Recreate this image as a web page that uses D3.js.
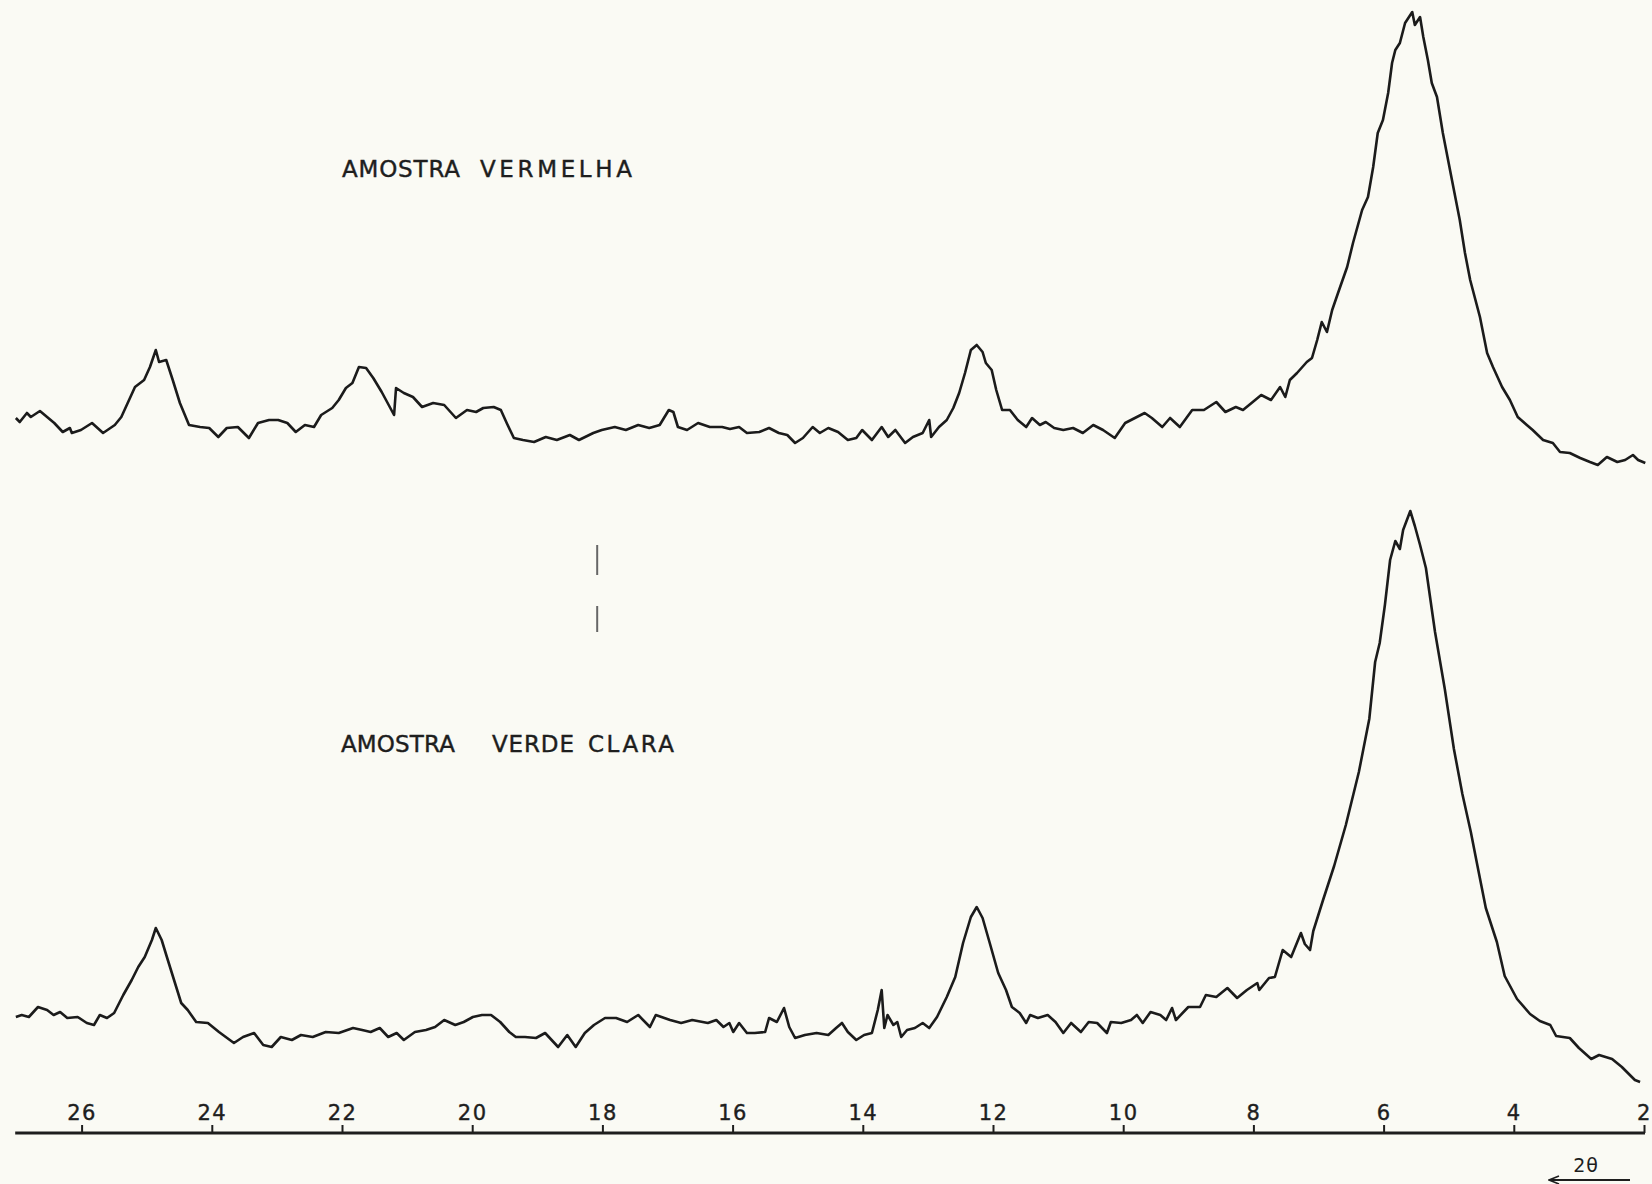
<!DOCTYPE html>
<html>
<head>
<meta charset="utf-8">
<script src="https://cdn.jsdelivr.net/npm/d3@7/dist/d3.min.js"></script>
<style>
  body { margin: 0; background: #fafaf4; }
  text { font-family: "DejaVu Sans", sans-serif; fill: #1e1e1e; }
</style>
</head>
<body>
<script>
const width = 1652;
const height = 1184;

// 2-theta tick marks of the recorder chart
const twoThetaTicks = [26, 24, 22, 20, 18, 16, 14, 12, 10, 8, 6, 4, 2];
const sampleNames = ["AMOSTRA VERMELHA", "AMOSTRA VERDE CLARA"];

// [2theta (deg), intensity (arb. units)], red sample
const redSample = [
  [27.01,124],[26.95,116],[26.84,134],[26.78,126],[26.64,138],[26.53,126],[26.42,114],[26.29,96],
  [26.18,104],[26.15,94],[26.01,100],[25.84,114],[25.67,94],[25.49,110],[25.39,126],[25.18,186],
  [25.04,200],[24.95,226],[24.86,260],[24.81,236],[24.70,240],[24.60,200],[24.49,154],[24.35,110],
  [24.18,106],[24.04,104],[23.90,86],[23.77,104],[23.60,106],[23.43,84],[23.29,114],[23.12,120],
  [22.98,120],[22.84,114],[22.71,96],[22.57,110],[22.43,106],[22.32,130],[22.15,144],[22.05,160],
  [21.94,184],[21.84,194],[21.74,226],[21.63,224],[21.52,204],[21.39,176],[21.20,130],[21.17,184],
  [21.05,174],[20.91,166],[20.77,146],[20.60,154],[20.43,150],[20.25,124],[20.08,140],[19.94,136],
  [19.83,144],[19.67,146],[19.56,140],[19.47,114],[19.36,84],[19.22,80],[19.05,76],[18.87,86],
  [18.70,80],[18.50,90],[18.36,80],[18.14,94],[18.01,100],[17.81,106],[17.64,100],[17.45,110],
  [17.28,104],[17.12,110],[16.98,140],[16.91,136],[16.84,106],[16.70,100],[16.53,114],[16.35,106],
  [16.16,106],[16.04,102],[15.90,106],[15.78,94],[15.59,96],[15.44,104],[15.29,94],[15.16,90],
  [15.04,74],[14.92,84],[14.77,106],[14.66,94],[14.53,104],[14.38,96],[14.23,80],[14.10,84],
  [14.01,100],[13.86,80],[13.71,106],[13.61,86],[13.50,100],[13.35,74],[13.23,86],[13.08,94],
  [12.98,120],[12.95,86],[12.83,106],[12.71,120],[12.61,144],[12.52,174],[12.43,214],[12.34,260],
  [12.25,270],[12.16,256],[12.11,234],[12.02,220],[11.95,180],[11.86,140],[11.74,140],[11.62,120],
  [11.49,106],[11.40,124],[11.28,110],[11.19,116],[11.06,104],[10.92,100],[10.77,104],[10.62,94],
  [10.46,110],[10.31,100],[10.13,84],[9.97,114],[9.79,126],[9.67,134],[9.56,124],[9.40,106],
  [9.28,124],[9.13,106],[8.94,140],[8.76,140],[8.57,156],[8.43,136],[8.27,146],[8.16,140],
  [8.01,156],[7.88,170],[7.73,160],[7.59,186],[7.51,166],[7.44,200],[7.33,214],[7.18,236],
  [7.10,244],[7.02,280],[6.95,316],[6.87,296],[6.79,340],[6.70,374],[6.56,426],[6.47,474],
  [6.33,540],[6.24,566],[6.16,626],[6.09,694],[6.01,720],[5.93,774],[5.87,834],[5.82,860],
  [5.75,874],[5.67,914],[5.56,936],[5.52,910],[5.44,926],[5.39,886],[5.32,840],[5.26,794],
  [5.18,766],[5.09,694],[4.95,600],[4.83,520],[4.75,454],[4.67,400],[4.52,326],[4.41,254],
  [4.32,226],[4.18,186],[4.06,160],[3.94,126],[3.80,110],[3.71,100],[3.55,80],[3.40,74],
  [3.29,56],[3.14,54],[2.98,44],[2.83,36],[2.71,30],[2.57,46],[2.41,36],[2.29,40],
  [2.17,50],[2.09,40],[1.98,34]
];

// light green sample
const greenSample = [
  [27.01,146],[26.92,150],[26.81,146],[26.67,166],[26.53,160],[26.43,150],[26.33,156],[26.22,144],
  [26.06,146],[25.92,134],[25.81,130],[25.72,150],[25.61,144],[25.50,154],[25.36,190],[25.23,220],
  [25.13,246],[25.03,266],[24.92,300],[24.86,324],[24.77,300],[24.69,266],[24.58,220],[24.47,174],
  [24.37,160],[24.24,136],[24.06,134],[23.89,116],[23.66,94],[23.52,106],[23.35,114],[23.21,90],
  [23.08,86],[22.94,106],[22.77,100],[22.63,110],[22.45,106],[22.25,116],[22.05,114],[21.83,124],
  [21.69,120],[21.56,116],[21.42,124],[21.29,106],[21.16,114],[21.05,100],[20.88,116],[20.71,120],
  [20.57,126],[20.43,140],[20.26,130],[20.13,136],[19.99,146],[19.85,150],[19.71,150],[19.57,136],
  [19.43,116],[19.33,106],[19.19,106],[19.02,104],[18.88,114],[18.68,86],[18.54,110],[18.41,86],
  [18.27,114],[18.13,130],[17.96,144],[17.79,144],[17.62,136],[17.45,150],[17.27,126],[17.18,150],
  [16.96,140],[16.79,134],[16.62,140],[16.38,134],[16.25,140],[16.14,126],[16.05,134],[15.99,116],
  [15.90,134],[15.78,114],[15.66,114],[15.50,116],[15.44,144],[15.32,136],[15.21,164],[15.13,126],
  [15.04,104],[14.89,110],[14.71,114],[14.53,110],[14.41,124],[14.32,134],[14.23,116],[14.10,100],
  [13.98,110],[13.86,114],[13.77,160],[13.71,200],[13.67,124],[13.62,150],[13.53,130],[13.47,136],
  [13.41,106],[13.32,120],[13.20,124],[13.08,134],[12.98,124],[12.86,146],[12.71,186],[12.58,226],
  [12.46,294],[12.34,346],[12.25,366],[12.16,344],[12.05,294],[11.92,234],[11.80,200],[11.71,166],
  [11.59,154],[11.49,134],[11.43,150],[11.31,144],[11.16,150],[11.04,136],[10.92,114],[10.80,134],
  [10.65,116],[10.53,136],[10.40,134],[10.25,114],[10.19,136],[10.03,134],[9.88,140],[9.79,150],
  [9.70,134],[9.58,156],[9.43,150],[9.34,140],[9.25,164],[9.19,140],[9.00,166],[8.82,166],
  [8.73,190],[8.57,186],[8.40,204],[8.25,184],[8.10,200],[7.94,214],[7.91,200],[7.76,224],
  [7.67,226],[7.55,280],[7.42,266],[7.27,314],[7.21,292],[7.13,280],[7.08,318],[6.93,380],
  [6.76,448],[6.58,530],[6.38,636],[6.22,742],[6.13,856],[6.06,894],[5.98,970],[5.90,1060],
  [5.82,1098],[5.75,1082],[5.70,1120],[5.59,1158],[5.52,1128],[5.44,1090],[5.35,1044],[5.21,916],
  [5.06,802],[4.92,682],[4.79,592],[4.66,516],[4.57,456],[4.43,364],[4.26,296],[4.14,228],
  [3.95,182],[3.75,152],[3.60,138],[3.44,130],[3.35,108],[3.14,104],[3.00,84],[2.81,62],
  [2.69,70],[2.49,62],[2.34,46],[2.14,20],[2.06,16]
];

const svg = d3.select("body").append("svg")
    .attr("width", width)
    .attr("height", height);

svg.append("rect")
    .attr("width", width)
    .attr("height", height)
    .attr("fill", "#fafaf4");

const x = d3.scaleLinear().domain([26, 2]).range([81.6, 1644]);
const yRed = d3.scaleLinear().domain([0, 1000]).range([480, -20]);
const yGreen = d3.scaleLinear().domain([0, 1000]).range([1090, 590]);

function drawTrace(data, y) {
    const line = d3.line()
        .x(d => x(d[0]))
        .y(d => y(d[1]));
    svg.append("path")
        .datum(data)
        .attr("d", line)
        .attr("fill", "none")
        .attr("stroke", "#1b1b1b")
        .attr("stroke-width", 2.6)
        .attr("stroke-linejoin", "round");
}

drawTrace(redSample, yRed);
drawTrace(greenSample, yGreen);

// sample titles: each word spaced out to the width of the hand lettering
function title(name, starts, lengths, baseline) {
    name.split(" ").forEach((w, i) => {
        svg.append("text")
            .attr("x", starts[i])
            .attr("y", baseline)
            .attr("font-size", 23)
            .attr("stroke", "#1e1e1e")
            .attr("stroke-width", 0.4)
            .attr("textLength", lengths[i])
            .attr("lengthAdjust", "spacing")
            .text(w);
    });
}
title(sampleNames[0], [342, 480], [118, 152], 177);
title(sampleNames[1], [341, 492, 588], [114, 82, 86], 752);

// 2-theta axis along the bottom
const axisY = 1133;
const axis = svg.append("g")
    .attr("transform", `translate(0,${axisY})`)
    .call(d3.axisTop(x)
        .tickValues(twoThetaTicks)
        .tickSize(8)
        .tickPadding(5)
        .tickFormat(d3.format("d")));

axis.select(".domain").remove();
axis.selectAll(".tick line")
    .attr("stroke", "#1e1e1e")
    .attr("stroke-width", 2);
axis.selectAll(".tick text")
    .attr("font-family", "DejaVu Sans, sans-serif")
    .attr("font-size", 21)
    .attr("letter-spacing", 1.5)
    .attr("stroke", "#1e1e1e")
    .attr("stroke-width", 0.4)
    .attr("fill", "#1e1e1e");

axis.append("line")
    .attr("x1", x(27.02))
    .attr("x2", x(2) + 1)
    .attr("y1", 0)
    .attr("y2", 0)
    .attr("stroke", "#1e1e1e")
    .attr("stroke-width", 2.8);

// direction of scan
svg.append("text")
    .attr("x", x(2) - 58)
    .attr("y", 1172)
    .attr("text-anchor", "middle")
    .attr("font-size", 19)
    .attr("letter-spacing", 1)
    .text("2\u03b8");

svg.append("defs").append("marker")
    .attr("id", "head")
    .attr("viewBox", "0 0 10 10")
    .attr("refX", 9)
    .attr("refY", 5)
    .attr("markerWidth", 6)
    .attr("markerHeight", 5)
    .attr("orient", "auto")
  .append("path")
    .attr("d", "M0,1 L10,5 L0,9")
    .attr("fill", "none")
    .attr("stroke", "#1e1e1e")
    .attr("stroke-width", 1.6);

svg.append("line")
    .attr("x1", x(2) - 14)
    .attr("x2", x(2) - 94)
    .attr("y1", 1180)
    .attr("y2", 1180)
    .attr("stroke", "#1e1e1e")
    .attr("stroke-width", 2)
    .attr("marker-end", "url(#head)");

// stray pen marks on the sheet near 18 deg
[[545, 575], [606, 632]].forEach(([a, b]) => {
    svg.append("line")
        .attr("x1", x(18.08)).attr("x2", x(18.08))
        .attr("y1", a).attr("y2", b)
        .attr("stroke", "#666")
        .attr("stroke-width", 2);
});
</script>
</body>
</html>
